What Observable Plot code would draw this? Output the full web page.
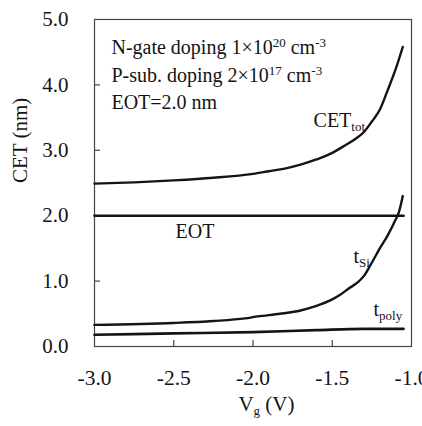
<!DOCTYPE html>
<html><head><meta charset="utf-8">
<script src="https://cdn.jsdelivr.net/npm/d3@7"></script>
<script src="https://cdn.jsdelivr.net/npm/@observablehq/plot@0.6"></script>
<style>
body{margin:0;background:#fff;}
#chart svg, #chart svg text, #chart svg tspan{font-family:"Liberation Serif","Times New Roman",serif !important;}
</style>
</head><body><div id="chart"></div>
<script>
// ---- data ----
const cetTotVg  = [-3.0, -2.75, -2.5, -2.25, -2.0, -1.9, -1.8, -1.7, -1.6, -1.5, -1.43, -1.35, -1.3, -1.25, -1.2, -1.15, -1.1, -1.055];
const cetTotVal = [2.49, 2.51, 2.54, 2.58, 2.64, 2.68, 2.72, 2.78, 2.86, 2.96, 3.06, 3.18, 3.28, 3.44, 3.62, 3.92, 4.24, 4.58];
const tSiVg  = [-3.0, -2.5, -2.25, -2.05, -1.97, -1.83, -1.7, -1.6, -1.5, -1.45, -1.4, -1.34, -1.3, -1.26, -1.2, -1.15, -1.1, -1.08, -1.055];
const tSiVal = [0.33, 0.36, 0.39, 0.43, 0.46, 0.50, 0.55, 0.62, 0.72, 0.79, 0.88, 0.98, 1.08, 1.24, 1.50, 1.70, 1.94, 2.05, 2.30];
const tPolyVg  = [-3.0, -2.5, -2.0, -1.6, -1.3, -1.05];
const tPolyVal = [0.18, 0.20, 0.22, 0.25, 0.27, 0.27];
const eotVg  = [-3.0, -1.05];
const eotVal = [2.0, 2.0];

const xTicks = [-3.0, -2.5, -2.0, -1.5, -1.0];
const yTicks = [0, 1, 2, 3, 4, 5];
const xInner = [-2.5, -2.0, -1.5];
const yInner = [1, 2, 3, 4];

const annotLines = ["N-gate doping 1×10^{20} cm^{-3}", "P-sub. doping 2×10^{17} cm^{-3}", "EOT=2.0 nm"];
const xLabel = "V_{g} (V)";
const yLabel = "CET (nm)";

const zip = (xs, ys) => xs.map((x, i) => ({x, y: ys[i]}));
const ink = "#141414";
const serif = "'Liberation Serif', 'Times New Roman', serif";

const W = 422, H = 426, mT = 19, mB = 80, mL = 94, mR = 11;
const frameH = H - mT - mB, frameW = W - mL - mR;

const plot = Plot.plot({
  width: W, height: H,
  marginLeft: mL, marginRight: mR, marginTop: mT, marginBottom: mB,
  style: {fontFamily: serif, fontSize: "20px", color: ink, background: "#fff", overflow: "visible"},
  x: {domain: [-3, -1]},
  y: {domain: [0, 5]},
  marks: [
    Plot.frame({stroke: "#444", strokeWidth: 1.2}),
    Plot.axisX(xTicks, {tickSize: 0, tickPadding: 23, tickFormat: d => d.toFixed(1), fontSize: 21.5, fill: ink, label: null}),
    Plot.axisY(yTicks, {tickSize: 0, tickPadding: 26, tickFormat: d => d.toFixed(1), fontSize: 21, fill: ink, label: null}),
    Plot.tickX(xInner, {x: d => d, insetTop: frameH - 6, stroke: "#444", strokeWidth: 1.2}),
    Plot.tickY(yInner, {y: d => d, insetRight: frameW - 6, stroke: "#444", strokeWidth: 1.2}),
    Plot.line(zip(eotVg, eotVal), {x: "x", y: "y", stroke: ink, strokeWidth: 2.6}),
    Plot.line(zip(tPolyVg, tPolyVal), {x: "x", y: "y", stroke: ink, strokeWidth: 2.6, curve: "monotone-x"}),
    Plot.line(zip(tSiVg, tSiVal), {x: "x", y: "y", stroke: ink, strokeWidth: 2.4, curve: "monotone-x"}),
    Plot.line(zip(cetTotVg, cetTotVal), {x: "x", y: "y", stroke: ink, strokeWidth: 2.4, curve: "monotone-x"}),
    Plot.text(annotLines, {x: -2.893, y: (d, i) => [4.57, 4.135, 3.725][i], text: d => d, textAnchor: "start", fontSize: 20, fill: ink}),
    Plot.text(["CET_{tot}"], {x: -1.618, y: 3.45, text: d => d, textAnchor: "start", fontSize: 20, fill: ink}),
    Plot.text(["EOT"], {x: -2.489, y: 1.75, text: d => d, textAnchor: "start", fontSize: 20, fill: ink}),
    Plot.text(["t_{Si}"], {x: -1.366, y: 1.37, text: d => d, textAnchor: "start", fontSize: 20, fill: ink}),
    Plot.text(["t_{poly}"], {x: -1.24, y: 0.56, text: d => d, textAnchor: "start", fontSize: 20, fill: ink}),
    Plot.text([xLabel], {x: -1.915, frameAnchor: "bottom", dy: 64, text: d => d, fontSize: 21, fill: ink}),
    Plot.text([yLabel], {frameAnchor: "left", dx: -74, rotate: -90, text: d => d, fontSize: 21, fill: ink})
  ]
});

function richify(svg) {
  const ns = "http://www.w3.org/2000/svg";
  svg.querySelectorAll("text").forEach(t => {
    t.setAttribute("font-family", serif);
    const s = t.textContent;
    if (!/[_^]\{/.test(s) || t.querySelector("tspan")) return;
    t.textContent = "";
    const re = /([_^])\{([^}]*)\}/g;
    let last = 0, m;
    const add = (txt, kind) => {
      const ts = document.createElementNS(ns, "tspan");
      ts.textContent = txt;
      if (kind) {
        ts.setAttribute("font-size", "13");
        ts.setAttribute("baseline-shift", kind === "^" ? "7" : "-4");
      }
      t.appendChild(ts);
    };
    while ((m = re.exec(s))) {
      if (m.index > last) add(s.slice(last, m.index));
      add(m[2], m[1]);
      last = re.lastIndex;
    }
    if (last < s.length) add(s.slice(last));
  });
}
richify(plot);
document.getElementById("chart").appendChild(plot);
</script>
</body></html>
